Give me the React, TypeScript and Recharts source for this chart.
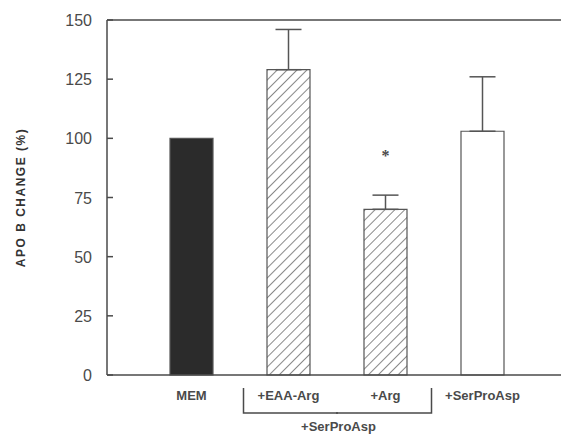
import { BarChart, Bar, XAxis, YAxis, Cell, ErrorBar, LabelList, ReferenceLine } from 'recharts';

const groups = ['MEM', '+EAA-Arg', '+Arg', '+SerProAsp'];
const apoB = [100, 129, 70, 103];
const sem = [null, 17, 6, 23];
const marks = ['', '', '*', ''];
const fills = ['#2b2b2b', 'url(#hatch)', 'url(#hatch)', '#ffffff'];
const yTicks = [0, 25, 50, 75, 100, 125, 150];

const data = groups.map((g, i) => ({
  name: g,
  value: apoB[i],
  err: sem[i] == null ? null : [0, sem[i]],
  mark: marks[i],
}));

const ink = '#4a4a4a';
const font = 'Liberation Sans, Arial, sans-serif';

const YTick = ({ x, y, payload }: any) => (
  <g>
    <text x={x} y={y} dy={6} textAnchor="end" fontSize={16} fill={ink} fontFamily={font}>
      {payload.value}
    </text>
    <line x1={x + 15} x2={x + 21} y1={y} y2={y} stroke={ink} strokeWidth={1.5} />
  </g>
);

// category labels, plus the bracket that groups the two +SerProAsp treatments
const XTick = ({ x, y, payload, index }: any) => (
  <g>
    <text x={x} y={y + 25} textAnchor="middle" fontSize={13} fontWeight="bold" fill={ink} fontFamily={font}>
      {payload.value}
    </text>
    {index === 1 && (
      <g stroke={ink} strokeWidth={1.5} fill="none">
        <polyline points={`${x - 45},${y + 13} ${x - 45},${y + 38} ${x + 49.5},${y + 38}`} />
      </g>
    )}
    {index === 1 && (
      <text x={x + 50} y={y + 56} textAnchor="middle" fontSize={13} fontWeight="bold" fill={ink} fontFamily={font}>
        +SerProAsp
      </text>
    )}
    {index === 2 && (
      <g stroke={ink} strokeWidth={1.5} fill="none">
        <polyline points={`${x - 49.5},${y + 38} ${x + 46},${y + 38} ${x + 46},${y + 13}`} />
      </g>
    )}
  </g>
);

const Star = ({ x, y, width, value }: any) =>
  value ? (
    <text x={x + width / 2} y={y - 48} textAnchor="middle" fontSize={16} fontWeight="bold" fill={ink}>
      {value}
    </text>
  ) : null;

export default function App() {
  return (
    <div style={{ position: 'absolute', left: 0, top: 0, width: 561, height: 436, background: '#fff' }}>
      <BarChart width={561} height={436} data={data} margin={{ top: 20, right: 0, bottom: 0, left: 0 }} barCategoryGap={0}>
        <defs>
          <pattern id="hatch" width="7" height="7" patternUnits="userSpaceOnUse" patternTransform="rotate(45)">
            <line x1="0" y1="0" x2="0" y2="7" stroke="#555" strokeWidth={1.4} />
          </pattern>
        </defs>
        <ReferenceLine y={150} stroke={ink} strokeWidth={1.5} />
        <XAxis
          dataKey="name"
          padding={{ left: 36, right: 30 }}
          axisLine={{ stroke: ink, strokeWidth: 1.5 }}
          tickLine={false}
          tickSize={0}
          tickMargin={0}
          height={61}
          interval={0}
          tick={<XTick />}
        />
        <YAxis
          domain={[0, 150]}
          ticks={yTicks}
          width={107}
          axisLine={{ stroke: ink, strokeWidth: 1.5 }}
          tickLine={false}
          tickSize={0}
          tickMargin={15}
          tick={<YTick />}
          label={{
            value: 'APO B CHANGE (%)',
            angle: -90,
            position: 'insideLeft',
            dx: 16,
            style: { fontSize: 12, fontWeight: 'bold', fill: '#333', letterSpacing: 1.5, fontFamily: font, textAnchor: 'middle' },
          }}
        />
        <Bar dataKey="value" barSize={43} stroke="#555" strokeWidth={1.2} isAnimationActive={false}>
          {data.map((d, i) => (
            <Cell key={d.name} fill={fills[i]} />
          ))}
          <ErrorBar dataKey="err" direction="y" width={13} stroke="#555" strokeWidth={1.5} />
          <LabelList dataKey="mark" content={<Star />} />
        </Bar>
      </BarChart>
    </div>
  );
}
